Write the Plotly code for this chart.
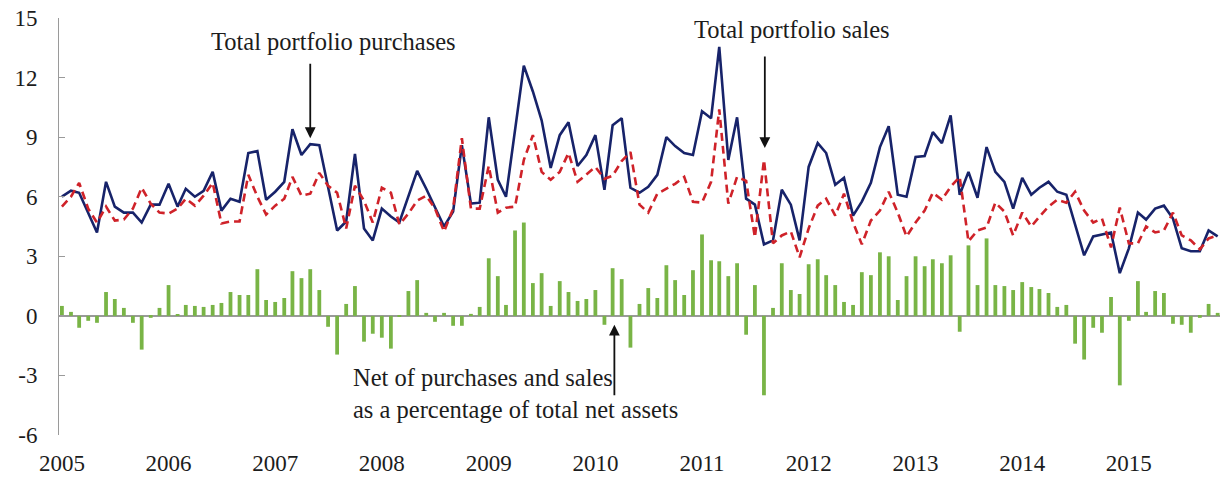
import plotly.graph_objects as go

years = [str(y) for y in range(2005, 2016)]
months = [f"{y}-{m:02d}-01" for y in range(2005, 2016) for m in range(1, 13)][:131]

purchases = [
    6.0, 6.3, 6.2, 5.2, 4.2, 6.75, 5.5, 5.2, 5.2, 4.7, 5.6, 5.6,
    6.65, 5.5, 6.4, 6.0, 6.3, 7.25, 5.3, 5.9, 5.75, 8.2, 8.3, 5.85,
    6.25, 6.75, 9.4, 8.1, 8.65, 8.6, 6.5, 4.3, 4.75, 8.15, 4.4, 3.8,
    5.4, 5.0, 4.7, 6.0, 7.3, 6.4, 5.5, 4.5, 5.25, 8.6, 5.65, 5.7,
    10.0, 6.85, 6.0, 9.3, 12.6, 11.3, 9.85, 7.45, 9.1, 9.75, 7.55, 8.1,
    9.1, 6.35, 9.6, 9.95, 6.45, 6.2, 6.5, 7.1, 9.0, 8.55, 8.2, 8.1,
    10.3, 9.95, 13.55, 7.85, 10.0, 5.9, 5.6, 3.6, 3.8, 6.35, 5.6, 3.8,
    7.5, 8.7, 8.2, 6.6, 6.95, 5.05, 5.75, 6.7, 8.5, 9.55, 6.1, 6.0,
    8.0, 8.05, 9.25, 8.7, 10.1, 6.1, 7.25, 5.95, 8.5, 7.25, 6.75, 5.4,
    6.95, 6.1, 6.45, 6.75, 6.25, 6.1, 4.6, 3.05, 4.0, 4.1, 4.2, 2.15,
    3.4, 5.2, 4.85, 5.4, 5.55, 4.9, 3.4, 3.25, 3.25, 4.3, 4.0,
]

sales = [
    5.5, 6.0, 6.7, 5.4, 4.7, 5.5, 4.8, 4.85, 5.4, 6.45, 5.65, 5.2,
    5.15, 5.4, 5.9, 5.55, 6.05, 6.7, 4.65, 4.75, 4.75, 7.1, 6.0, 5.1,
    5.55, 5.9, 7.0, 6.05, 6.15, 7.2, 6.55, 6.2, 4.4, 6.55, 5.8, 4.7,
    6.45, 6.2, 4.6, 5.15, 5.8, 6.05, 5.4, 4.25, 5.4, 8.95, 5.4, 5.4,
    7.55, 5.2, 5.45, 5.5, 7.85, 9.1, 7.25, 6.85, 7.25, 8.2, 6.75, 7.1,
    7.5, 6.9, 7.05, 7.8, 8.25, 5.6, 5.2, 6.15, 6.4, 6.65, 7.0, 5.75,
    5.7, 6.75, 10.4, 5.65, 7.0, 6.8, 3.95, 7.85, 3.65, 4.05, 4.25, 2.95,
    4.4, 5.55, 5.9, 5.05, 6.15, 4.7, 3.6, 4.8, 5.3, 6.25, 5.2, 4.0,
    4.7, 5.3, 6.2, 5.85, 6.5, 7.0, 3.75, 4.3, 4.45, 5.7, 5.25, 4.05,
    5.2, 4.5, 5.0, 5.5, 5.85, 5.7, 6.25, 5.3, 4.7, 4.9, 3.45, 5.45,
    3.65, 3.65, 4.5, 4.2, 4.3, 5.2, 4.05, 3.8, 3.35, 3.9, 4.05,
]

net = [
    0.5, 0.2, -0.6, -0.25, -0.35, 1.2, 0.85, 0.4, -0.35, -1.7, -0.1, 0.4,
    1.55, 0.05, 0.55, 0.5, 0.45, 0.55, 0.65, 1.2, 1.05, 1.05, 2.35, 0.8,
    0.7, 0.9, 2.25, 1.9, 2.35, 1.3, -0.55, -1.95, 0.6, 1.5, -1.3, -0.9,
    -1.1, -1.65, -0.05, 1.25, 1.8, 0.15, -0.3, 0.15, -0.5, -0.5, 0.1, 0.45,
    2.9, 2.0, 0.55, 4.3, 4.7, 1.65, 2.15, 0.5, 1.75, 1.2, 0.75, 0.85,
    1.3, -0.45, 2.4, 1.85, -1.6, 0.6, 1.4, 0.9, 2.55, 1.8, 1.05, 2.3,
    4.1, 2.8, 2.75, 2.0, 2.65, -0.95, 1.55, -4.0, 0.4, 2.65, 1.3, 1.1,
    2.6, 2.85, 2.05, 1.55, 0.7, 0.55, 2.2, 2.05, 3.2, 3.0, 0.8, 2.0,
    3.0, 2.5, 2.85, 2.65, 3.05, -0.8, 3.55, 1.55, 3.9, 1.55, 1.5, 1.3,
    1.7, 1.45, 1.35, 1.15, 0.45, 0.55, -1.4, -2.2, -0.6, -0.85, 0.95, -3.5,
    -0.25, 1.75, 0.2, 1.25, 1.15, -0.4, -0.45, -0.85, -0.1, 0.6, 0.15,
]

y_ticks = [-6, -3, 0, 3, 6, 9, 12, 15]
y_ticktext = ["-6", "-3", "0", "3", "6", "9", "12", "15"]
year_ticks = [f"{y}-01-01" for y in years]

NAVY = "#17236a"
RED = "#cf2229"
GREEN = "#79b446"
FONT = "'Liberation Serif', 'DejaVu Serif', 'Times New Roman', serif"
TXT = "#1c1c1c"

fig = go.Figure()
fig.add_trace(go.Bar(x=months, y=net, marker_color=GREEN, marker_line_width=0,
                     width=13 * 86400000, name="Net"))
fig.add_trace(go.Scatter(x=months, y=purchases, mode="lines",
                         line=dict(color=NAVY, width=2.6), name="Purchases"))
fig.add_trace(go.Scatter(x=months, y=sales, mode="lines",
                         line=dict(color=RED, width=2.6, dash="8px,5px"), name="Sales"))

fig.update_layout(
    width=1220, height=481,
    margin=dict(l=59, r=0, t=18, b=46),
    plot_bgcolor="white", paper_bgcolor="white",
    showlegend=False,
    font=dict(family=FONT, size=24, color=TXT),
    xaxis=dict(
        type="date", range=["2004-12-22", "2015-11-09"],
        tickvals=year_ticks, ticktext=years, ticks="",
        showgrid=False, showline=False, zeroline=False,
        tickfont=dict(family=FONT, size=23, color=TXT),
        ticklabelstandoff=12, automargin=False,
    ),
    yaxis=dict(
        range=[-6, 15], tickvals=y_ticks, ticktext=y_ticktext,
        ticks="inside", ticklen=6, tickcolor="#9a9a9a", tickwidth=1,
        showline=True, linecolor="#9a9a9a", linewidth=1,
        showgrid=False, zeroline=True, zerolinecolor="#9a9a9a", zerolinewidth=1.5,
        tickfont=dict(family=FONT, size=23, color=TXT),
        ticklabelstandoff=16, automargin=False,
    ),
)

arrow = dict(showarrow=True, arrowhead=2, arrowsize=1.2, arrowwidth=1.8,
             arrowcolor="#111111", ax=0, text="")
fig.add_annotation(x="2007-05-01", y=8.95, ay=-76, **arrow)
fig.add_annotation(x="2011-08-04", y=8.45, ay=-93, **arrow)
fig.add_annotation(x="2010-03-07", y=-0.45, ay=72, **arrow)

label = dict(showarrow=False, font=dict(family=FONT, size=24.5, color=TXT), yanchor="middle")
fig.add_annotation(x="2007-07-19", y=13.8, text="Total portfolio purchases", xanchor="center", **label)
fig.add_annotation(x="2011-11-06", y=14.4, text="Total portfolio sales", xanchor="center", **label)
fig.add_annotation(x="2007-09-16", y=-3.12, text="Net of purchases and sales", xanchor="left", **label)
fig.add_annotation(x="2007-09-16", y=-4.73, text="as a percentage of total net assets", xanchor="left", **label)

fig.write_html(
    "out.html",
    config={"displayModeBar": False},
    post_script="document.body.style.margin='0px';document.body.style.overflow='hidden';",
)
